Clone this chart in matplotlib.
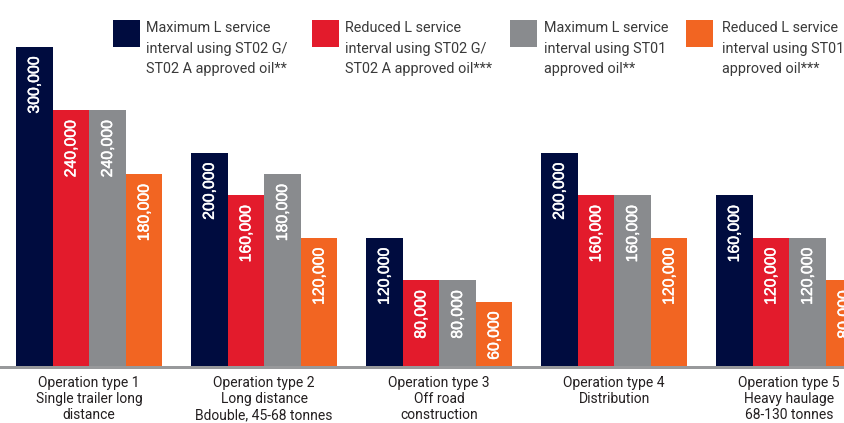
import matplotlib
matplotlib.use("Agg")
import matplotlib.pyplot as plt
import matplotlib.patheffects as pe
from matplotlib.patches import Rectangle
from matplotlib.transforms import blended_transform_factory
import numpy as np

# ---- data ----
categories = [
    ["Operation type 1", "Single trailer long", "distance"],
    ["Operation type 2", "Long distance", "Bdouble, 45-68 tonnes"],
    ["Operation type 3", "Off road", "construction"],
    ["Operation type 4", "Distribution"],
    ["Operation type 5", "Heavy haulage", "68-130 tonnes"],
]
series_names = [
    ["Maximum L service", "interval using ST02 G/", "ST02 A approved oil**"],
    ["Reduced L service", "interval using ST02 G/", "ST02 A approved oil***"],
    ["Maximum L service", "interval using ST01", "approved oil**"],
    ["Reduced L service", "interval using ST01", "approved oil***"],
]
max_st02 = [300000, 200000, 120000, 200000, 160000]
red_st02 = [240000, 160000, 80000, 160000, 120000]
max_st01 = [240000, 180000, 80000, 160000, 120000]
red_st01 = [180000, 120000, 60000, 120000, 80000]
series = [max_st02, red_st02, max_st01, red_st01]
colors = ["#000c3f", "#e31b2c", "#898b8e", "#f26522"]

W, H = 845, 423
fig = plt.figure(figsize=(W / 100, H / 100), dpi=100)

px_per_unit = 1.0633 / 1000.0  # pixels per value unit
base_px = 365.5                # baseline y pixel (from top)
line_px = 3.8
ax_bottom_px = base_px + line_px
ax = fig.add_axes([0, (H - ax_bottom_px) / H, 1, ax_bottom_px / H])
ax.set_ylim(-line_px / px_per_unit, ax_bottom_px / px_per_unit - line_px / px_per_unit)

group_px = 175.0
bar_px = 36.6
g0_center_px = 16 + 2 * bar_px
ax.set_xlim(-g0_center_px / group_px, (W - g0_center_px) / group_px)
w = bar_px / group_px

x = np.arange(len(categories))
label_off = 9.5 / px_per_unit
for j, (vals, c) in enumerate(zip(series, colors)):
    xs = x + (j - 1.5) * w
    ax.bar(xs, vals, width=w, color=c, linewidth=0, zorder=2)
    for xi, v in zip(xs, vals):
        ax.text(xi, v - label_off, f"{v:,}", rotation=90, ha="center", va="top",
                color="white", fontsize=11.4, family=["Liberation Sans", "DejaVu Sans"],
                zorder=3, clip_on=False,
                path_effects=[pe.withStroke(linewidth=0.35, foreground="white")])

ax.axhspan(ax.get_ylim()[0], 0, color="#98999b", linewidth=0, zorder=1)
ax.axis("off")

# category labels
tr = blended_transform_factory(ax.transData, fig.transFigure)
line_y = [383, 399, 415]
for xi, lines in zip(x, categories):
    for k, t in enumerate(lines):
        ax.text(xi, (H - line_y[k]) / H, t, transform=tr, ha="center", va="center",
                fontsize=10, family=["Roboto", "DejaVu Sans"], color="#231f20",
                clip_on=False)

# legend
sq_x = [113, 312, 510, 686]
txt_x = [146.5, 345, 543.5, 722.5]
leg_y = [28.5, 48.5, 68.5]
for sx, tx, c, lines in zip(sq_x, txt_x, colors, series_names):
    fig.add_artist(Rectangle((sx / W, (H - 47) / H), 27 / W, 27 / H,
                             transform=fig.transFigure, color=c, linewidth=0))
    for k, t in enumerate(lines):
        fig.text(tx / W, (H - leg_y[k]) / H, t, ha="left", va="center",
                 fontsize=10.4, family=["Roboto", "DejaVu Sans"], color="#3a3a3a")

fig.savefig("out.png", dpi=100)
